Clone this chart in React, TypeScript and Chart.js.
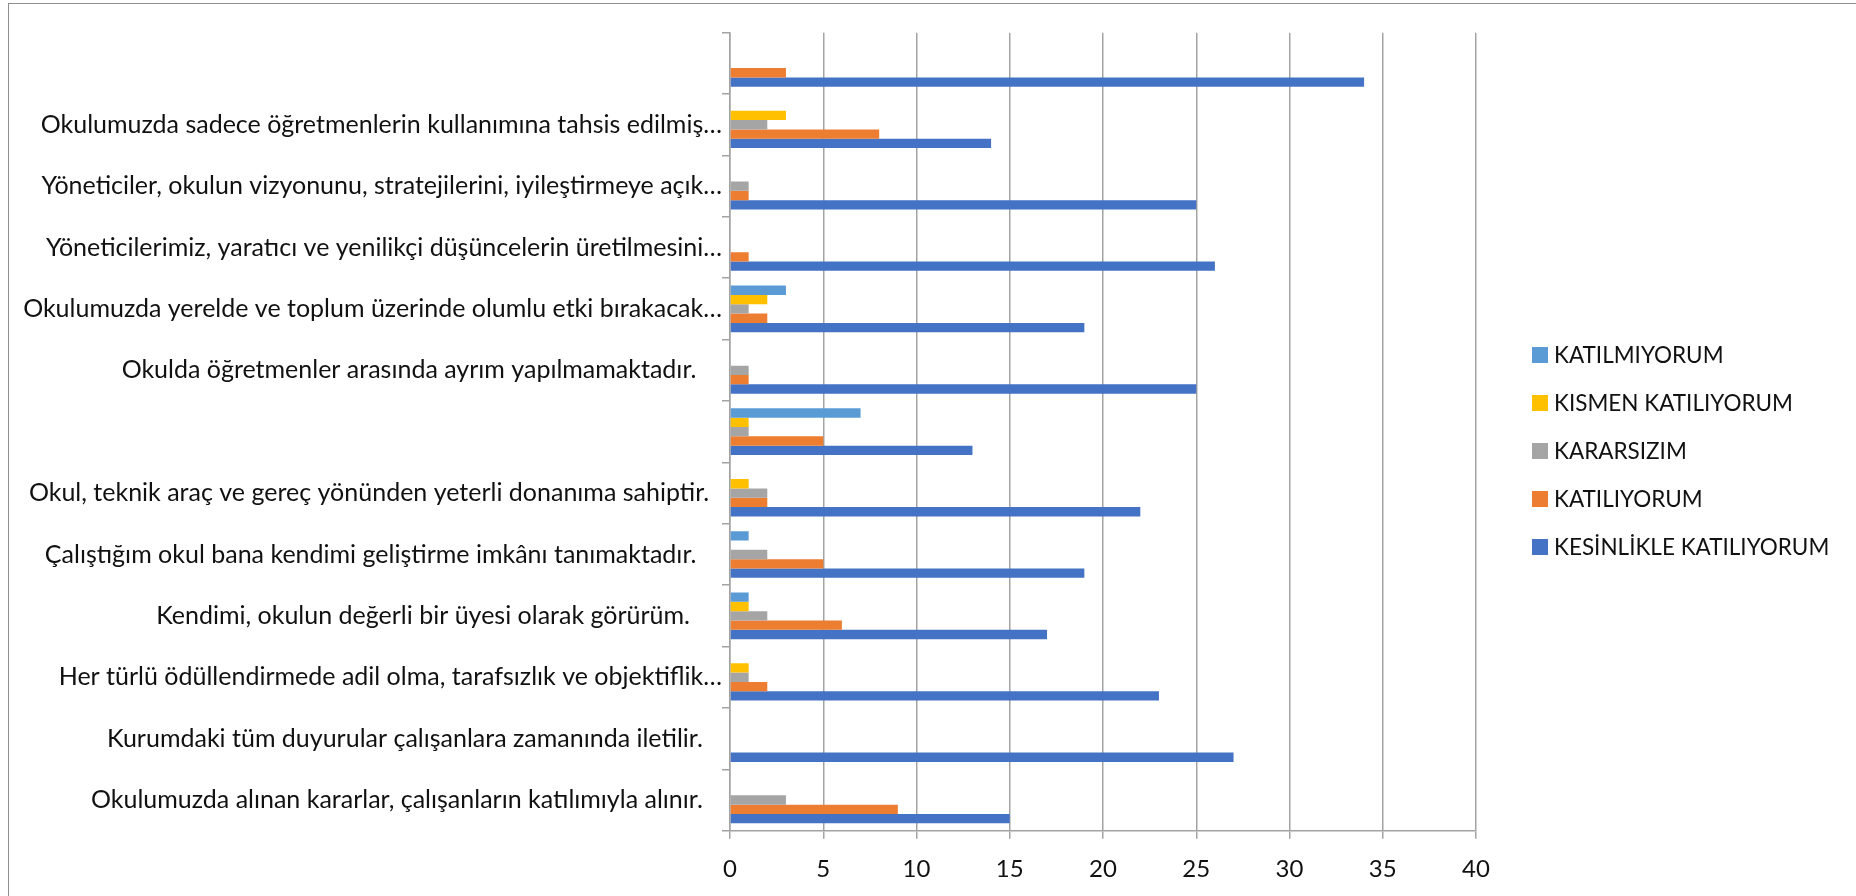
import React, { useEffect, useRef } from 'react';
import { Chart, registerables } from 'chart.js';

Chart.register(...registerables);

// categories, top to bottom as they appear on the chart
const categories = [
    '',
    'Okulumuzda sadece öğretmenlerin kullanımına tahsis edilmiş…',
    'Yöneticiler, okulun vizyonunu, stratejilerini, iyileştirmeye açık…',
    'Yöneticilerimiz, yaratıcı ve yenilikçi düşüncelerin üretilmesini…',
    'Okulumuzda yerelde ve toplum üzerinde olumlu etki bırakacak…',
    'Okulda öğretmenler arasında ayrım yapılmamaktadır.    ',
    '',
    'Okul, teknik araç ve gereç yönünden yeterli donanıma sahiptir.  ',
    'Çalıştığım okul bana kendimi geliştirme imkânı tanımaktadır.    ',
    'Kendimi, okulun değerli bir üyesi olarak görürüm.     ',
    'Her türlü ödüllendirmede adil olma, tarafsızlık ve objektiflik…',
    'Kurumdaki tüm duyurular çalışanlara zamanında iletilir.   ',
    'Okulumuzda alınan kararlar, çalışanların katılımıyla alınır.   ',
];

const katilmiyorum = [0, 0, 0, 0, 3, 0, 7, 0, 1, 1, 0, 0, 0];
const kismenKatiliyorum = [0, 3, 0, 0, 2, 0, 1, 1, 0, 1, 1, 0, 0];
const kararsizim = [0, 2, 1, 0, 1, 1, 1, 2, 2, 2, 1, 0, 3];
const katiliyorum = [3, 8, 1, 1, 2, 1, 5, 2, 5, 6, 2, 0, 9];
const kesinlikleKatiliyorum = [34, 14, 25, 26, 19, 25, 13, 22, 19, 17, 23, 27, 15];

const seriesNames = ['KATILMIYORUM', 'KISMEN KATILIYORUM', 'KARARSIZIM', 'KATILIYORUM', 'KESİNLİKLE KATILIYORUM'];
const seriesColors = ['#5B9BD5', '#FFC000', '#A5A5A5', '#ED7D31', '#4472C4'];
const seriesValues = [katilmiyorum, kismenKatiliyorum, kararsizim, katiliyorum, kesinlikleKatiliyorum];

const xMin = 0;
const xMax = 40;
const xStep = 5;

const FONT = 'Lato';
const GRID = '#a3a3a3';
const TEXT = '#111111';

// legend drawn on the right, Excel style
const sideLegend = {
    id: 'sideLegend',
    afterDraw(chart: Chart) {
        const { ctx } = chart;
        ctx.save();
        ctx.font = `22.5px ${FONT}`;
        ctx.textBaseline = 'middle';
        ctx.textAlign = 'left';
        chart.data.datasets.forEach((ds, i) => {
            const y = 351 + i * 48;
            ctx.fillStyle = ds.backgroundColor as string;
            ctx.fillRect(1523, y - 8, 16, 16);
            ctx.fillStyle = TEXT;
            ctx.fillText(ds.label as string, 1545, y + 1);
        });
        ctx.restore();
    },
};

const SurveyChart: React.FC = () => {
    const canvasRef = useRef<HTMLCanvasElement | null>(null);

    useEffect(() => {
        if (!canvasRef.current) return;
        Chart.defaults.font.family = FONT;

        const chart = new Chart(canvasRef.current, {
            type: 'bar',
            data: {
                labels: categories,
                datasets: seriesNames.map((name, i) => ({
                    label: name,
                    data: seriesValues[i],
                    backgroundColor: seriesColors[i],
                    borderWidth: 0,
                    categoryPercentage: 0.76,
                    barPercentage: 1.0,
                })),
            },
            options: {
                indexAxis: 'y',
                responsive: false,
                animation: false,
                layout: { padding: { top: 28.7, right: 380, left: 0, bottom: 0 } },
                plugins: {
                    legend: { display: false },
                    tooltip: { enabled: false },
                },
                scales: {
                    x: {
                        type: 'linear',
                        min: xMin,
                        max: xMax,
                        ticks: { stepSize: xStep, padding: 16, color: TEXT, font: { family: FONT, size: 24 } },
                        grid: { color: GRID, lineWidth: 1.5, drawTicks: true, tickLength: 8 },
                        border: { display: true, color: GRID, width: 1.5 },
                        afterFit: (scale: any) => { scale.height = 65.3; },
                    },
                    y: {
                        type: 'category',
                        offset: true,
                        ticks: { autoSkip: false, padding: 0, color: TEXT, font: { family: FONT, size: 25 } },
                        grid: { offset: true, drawOnChartArea: false, drawTicks: true, tickLength: 8, color: GRID, lineWidth: 1.5 },
                        border: { display: true, color: GRID, width: 1.5 },
                        afterFit: (scale: any) => { scale.width = 721; },
                    },
                },
            },
            plugins: [sideLegend],
        });

        return () => {
            chart.destroy();
        };
    }, []);

    return (
        <div
            style={{
                position: 'absolute',
                left: 8,
                top: 3,
                width: 1860,
                height: 900,
                border: '1px solid #8f8f8f',
                background: '#ffffff',
            }}
        >
            <canvas ref={canvasRef} width={1847} height={892} style={{ display: 'block' }}></canvas>
        </div>
    );
};

export default function App() {
    return <SurveyChart />;
}
